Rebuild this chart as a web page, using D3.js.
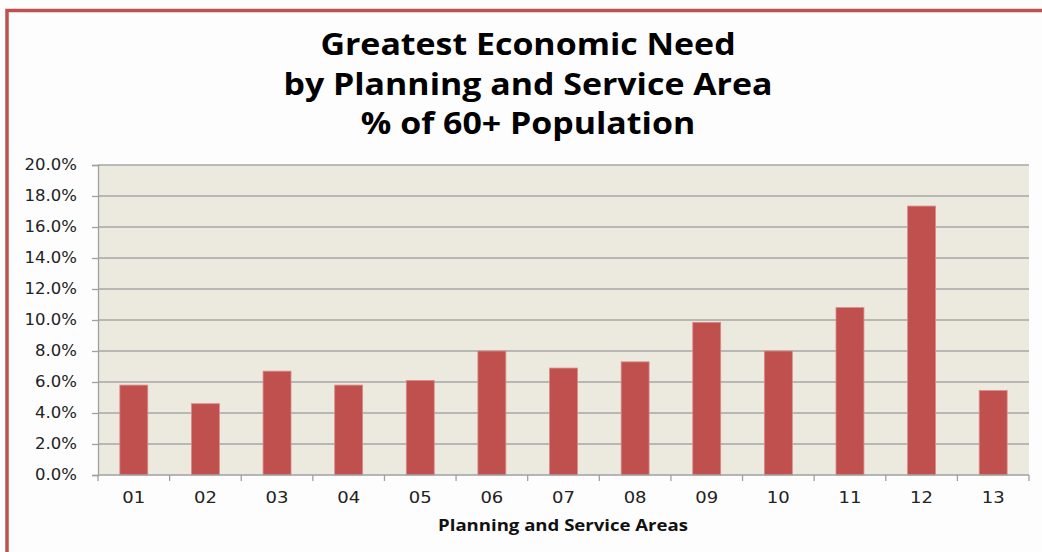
<!DOCTYPE html>
<html>
<head>
<meta charset="utf-8">
<script src="https://cdn.jsdelivr.net/npm/d3@7"></script>
<style>
  body { margin: 0; background: #fdfdfd; }
  svg { display: block; }
</style>
</head>
<body>
<div id="chart"></div>
<script>
let areas = ['01', '02', '03', '04', '05', '06', '07', '08', '09', '10', '11', '12', '13'];
let pctValues = [5.8, 4.6, 6.7, 5.8, 6.1, 8.0, 6.9, 7.3, 9.85, 8.0, 10.8, 17.35, 5.45];
let yTicks = [0, 2, 4, 6, 8, 10, 12, 14, 16, 18, 20];
let titleLines = ['Greatest Economic Need', 'by Planning and Service Area', '% of 60+ Population'];

let width = 1042;
let height = 552;
let margin = { top: 165, right: 13, bottom: 77, left: 98 };

// the original text looks stretched sideways, so widen glyphs a bit
let stretch = (sel, k) => sel.each(function () {
    let len = this.getComputedTextLength();
    d3.select(this)
        .attr('textLength', len * k)
        .attr('lengthAdjust', 'spacingAndGlyphs');
});

const svg = d3.select('#chart')
    .append('svg')
    .attr('width', width)
    .attr('height', height);

// outer frame
svg.append('rect')
    .attr('x', 7)
    .attr('y', 10.5)
    .attr('width', width + 20)
    .attr('height', height + 20)
    .attr('fill', '#fdfdfd')
    .attr('stroke', '#c0504d')
    .attr('stroke-width', 3.5);

let x = d3.scaleBand()
    .domain(areas)
    .range([margin.left, width - margin.right])
    .paddingInner(0)
    .paddingOuter(0);

let y = d3.scaleLinear()
    .domain([0, 20])
    .range([height - margin.bottom, margin.top]);

// plot background
svg.append('rect')
    .attr('x', margin.left)
    .attr('y', margin.top)
    .attr('width', width - margin.right - margin.left)
    .attr('height', height - margin.bottom - margin.top)
    .attr('fill', '#ece9df');

// gridlines
svg.append('g')
    .selectAll('line')
    .data(yTicks.filter(d => d > 0))
    .join('line')
    .attr('x1', margin.left)
    .attr('x2', width - margin.right)
    .attr('y1', d => y(d))
    .attr('y2', d => y(d))
    .attr('stroke', '#a6a6a6')
    .attr('stroke-width', 1.3);

// bars
let barW = x.bandwidth() * 0.39;
svg.append('g')
    .selectAll('rect')
    .data(pctValues)
    .join('rect')
    .attr('x', (d, i) => x(areas[i]) + (x.bandwidth() - barW) / 2)
    .attr('y', d => y(d))
    .attr('width', barW)
    .attr('height', d => y(0) - y(d))
    .attr('fill', '#c0504d')
    .attr('stroke', '#d98c8a')
    .attr('stroke-width', 0.8);

// y axis
let yAxis = (g) => g
    .attr('transform', `translate(${margin.left},0)`)
    .call(d3.axisLeft(y).tickValues(yTicks).tickSize(6).tickPadding(15)
        .tickFormat(d => d.toFixed(1) + '%'));

svg.append('g')
    .call(yAxis)
    .call(g => g.selectAll('.domain, line').attr('stroke', '#a0a0a0').attr('stroke-width', 1.3))
    .call(g => g.selectAll('text')
        .attr('font-family', 'DejaVu Sans')
        .attr('font-size', 15)
        .attr('fill', '#222')
        .call(stretch, 1.1));

// x axis
let tickPos = areas.map(a => x(a)).concat([width - margin.right]);
let xg = svg.append('g');
xg.append('line')
    .attr('x1', margin.left)
    .attr('x2', width - margin.right)
    .attr('y1', y(0))
    .attr('y2', y(0))
    .attr('stroke', '#a0a0a0')
    .attr('stroke-width', 1.3);
xg.selectAll('.tk')
    .data(tickPos)
    .join('line')
    .attr('class', 'tk')
    .attr('x1', d => d)
    .attr('x2', d => d)
    .attr('y1', y(0))
    .attr('y2', y(0) + 6)
    .attr('stroke', '#a0a0a0')
    .attr('stroke-width', 1.3);
xg.selectAll('text')
    .data(areas)
    .join('text')
    .attr('x', d => x(d) + x.bandwidth() / 2)
    .attr('y', 503)
    .attr('text-anchor', 'middle')
    .attr('font-family', 'DejaVu Sans')
    .attr('font-size', 15)
    .attr('fill', '#222')
    .text(d => d)
    .call(stretch, 1.2);

// axis title
svg.append('text')
    .attr('x', 563)
    .attr('y', 531)
    .attr('text-anchor', 'middle')
    .attr('font-family', 'Open Sans')
    .attr('font-weight', 'bold')
    .attr('font-size', 16)
    .attr('fill', '#111')
    .text('Planning and Service Areas')
    .call(stretch, 1.16);

// chart title
svg.append('g')
    .selectAll('text')
    .data(titleLines)
    .join('text')
    .attr('x', 528)
    .attr('y', (d, i) => 55 + i * 39.5)
    .attr('text-anchor', 'middle')
    .attr('font-family', 'Open Sans')
    .attr('font-weight', 'bold')
    .attr('font-size', 30)
    .attr('fill', '#000')
    .text(d => d)
    .call(stretch, 1.13);
</script>
</body>
</html>
